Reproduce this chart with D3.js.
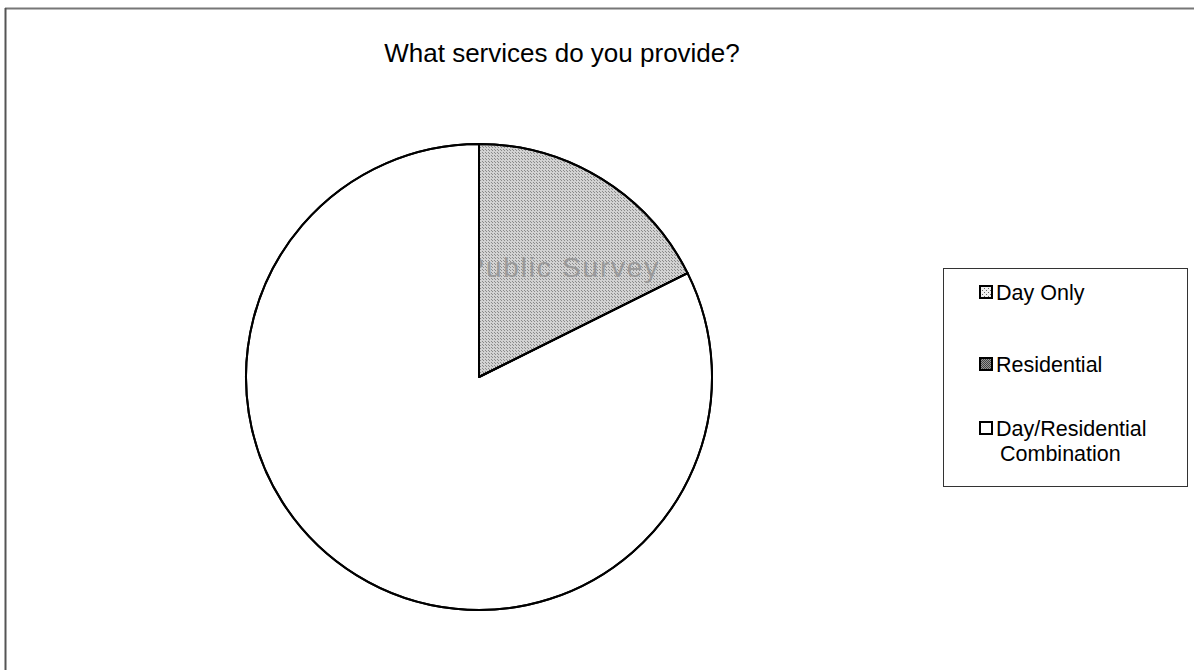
<!DOCTYPE html>
<html>
<head>
<meta charset="utf-8">
<script src="https://cdn.jsdelivr.net/npm/d3@7"></script>
<style>
  html, body { margin: 0; padding: 0; background: #fff; }
  svg { display: block; }
  text { font-family: "Liberation Sans", Arial, Helvetica, sans-serif; fill: #000; }
</style>
</head>
<body>
<svg id="chart" width="1194" height="670"></svg>
<script>
// Survey answers
const categories = ["Day Only", "Residential", "Day/Residential Combination"];
const values = [0, 3, 14];
const legendLines = [["Day Only"], ["Residential"], ["Day/Residential", "Combination"]];
const title = "What services do you provide?";
const watermark = "Public Survey";

const svg = d3.select("#chart");
const W = 1194, H = 670;

// halftone fills
const defs = svg.append("defs");
function dotPattern(id, bg, dot, size) {
  const p = defs.append("pattern").attr("id", id)
    .attr("patternUnits", "userSpaceOnUse").attr("width", size).attr("height", size);
  p.append("rect").attr("width", size).attr("height", size).attr("fill", bg);
  p.append("rect").attr("x", 0).attr("y", 0).attr("width", 1).attr("height", 1).attr("fill", dot);
  p.append("rect").attr("x", Math.floor(size / 2)).attr("y", Math.floor(size / 2))
    .attr("width", 1).attr("height", 1).attr("fill", dot);
  return `url(#${id})`;
}
const fills = [
  dotPattern("fillDay", "#f0f0f0", "#666", 4),
  dotPattern("fillRes", "#d2d2d2", "#8a8a8a", 3),
  "#ffffff"
];
const swatchFills = [fills[0], dotPattern("fillResSw", "#999", "#444", 2), fills[2]];

// chart frame (top and left edges)
svg.append("line").attr("x1", 5).attr("y1", 8.5).attr("x2", W).attr("y2", 8.5)
  .attr("stroke", "#777").attr("stroke-width", 2);
svg.append("line").attr("x1", 5.5).attr("y1", 8).attr("x2", 5.5).attr("y2", H)
  .attr("stroke", "#555").attr("stroke-width", 2);

// title
svg.append("text").attr("x", 562).attr("y", 62).attr("text-anchor", "middle")
  .style("font-size", "26px").text(title);

// pie
const cx = 479, cy = 377, r = 233;
const data = categories.map((c, i) => ({ name: c, value: values[i], i }));
const pie = d3.pie().sort(null).value(d => d.value);
const arc = d3.arc().innerRadius(0).outerRadius(r);
const arcs = pie(data);
const g = svg.append("g").attr("transform", `translate(${cx},${cy})`);

g.selectAll("path.slice").data(arcs).join("path")
  .attr("class", "slice")
  .attr("d", arc)
  .attr("fill", d => fills[d.data.i])
  .attr("stroke", "#000")
  .attr("stroke-width", d => d.data.value > 0 ? 2 : 0)
  .attr("stroke-linejoin", "round");

// faint watermark text showing through the shaded slice
const resArc = arcs[1];
defs.append("clipPath").attr("id", "resClip")
  .append("path").attr("d", arc(resArc));
g.append("text")
  .attr("clip-path", "url(#resClip)")
  .attr("x", 660 - cx).attr("y", 277 - cy)
  .attr("text-anchor", "end")
  .style("font-size", "28px")
  .style("letter-spacing", "1.8px")
  .style("fill", "#9a9a9a")
  .text(watermark);

// redraw slice outlines above the watermark
g.selectAll("path.outline").data(arcs.filter(d => d.data.value > 0)).join("path")
  .attr("class", "outline")
  .attr("d", arc)
  .attr("fill", "none")
  .attr("stroke", "#000")
  .attr("stroke-width", 2)
  .attr("stroke-linejoin", "round");

// legend
const lg = svg.append("g");
lg.append("rect").attr("x", 943.5).attr("y", 268.5).attr("width", 244).attr("height", 218)
  .attr("fill", "#fff").attr("stroke", "#333").attr("stroke-width", 1);
const itemY = [292, 364, 428];
const lineH = 25;
const items = lg.selectAll("g.item").data(data).join("g").attr("class", "item");
items.append("rect")
  .attr("x", 980).attr("y", (d, i) => itemY[i] - 6)
  .attr("width", 12).attr("height", 12)
  .attr("fill", d => swatchFills[d.i])
  .attr("stroke", "#000").attr("stroke-width", 2);
items.each(function (d, i) {
  const t = d3.select(this).append("text")
    .attr("x", 996).attr("y", itemY[i] + 7.5)
    .style("font-size", "21.5px");
  legendLines[i].forEach((ln, k) => {
    t.append("tspan").attr("x", k === 0 ? 996 : 1000).attr("dy", k === 0 ? 0 : lineH).text(ln);
  });
});
</script>
</body>
</html>
